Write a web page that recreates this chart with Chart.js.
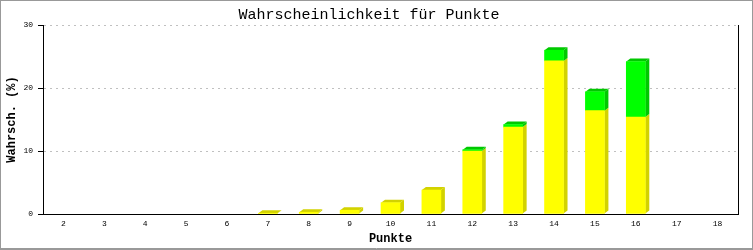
<!DOCTYPE html>
<html>
<head>
<meta charset="utf-8">
<script src="https://cdn.jsdelivr.net/npm/chart.js@4/dist/chart.umd.min.js"></script>
<style>
  body { margin: 0; background: #fff; }
  #wrap { width: 753px; height: 250px; }
</style>
</head>
<body>
<div id="wrap"><canvas id="punktechart" width="753" height="250"></canvas></div>
<script>
// categories (Punkte)
const punkte = ['2', '3', '4', '5', '6', '7', '8', '9', '10', '11', '12', '13', '14', '15', '16', '17', '18'];
// lower (yellow) part in %, null = no bar
const gelb = [null, null, null, null, null, 0.12, 0.28, 0.6, 1.8, 3.8, 10.0, 13.8, 24.3, 16.4, 15.4, null, null];
// upper (green) part in %
const gruen = [null, null, null, null, null, null, null, null, null, null, 0.2, 0.4, 1.7, 3.0, 8.8, null, null];
// y ticks
const yTicks = [0, 10, 20, 30];

const monoFont = "'Liberation Mono', 'DejaVu Sans Mono', monospace";

// draws the depth (side + top) of every bar before the front faces
const bars3d = {
    id: 'bars3d',
    beforeDatasetsDraw(chart) {
        const ctx = chart.ctx;
        const dx = 4, dy = 3;
        const n = chart.data.labels.length;
        ctx.save();
        for (let i = 0; i < n; i++) {
            let topBar = null;
            chart.data.datasets.forEach(function (ds, d) {
                const el = chart.getDatasetMeta(d).data[i];
                if (!el || !ds.data[i]) return;
                const right = el.x + el.width / 2;
                const top = Math.min(el.y, el.base);
                const bottom = Math.max(el.y, el.base);
                ctx.fillStyle = ds.sideColor;
                ctx.beginPath();
                ctx.moveTo(right, bottom);
                ctx.lineTo(right + dx, bottom - dy);
                ctx.lineTo(right + dx, top - dy);
                ctx.lineTo(right, top);
                ctx.closePath();
                ctx.fill();
                topBar = { el: el, color: ds.sideColor };
            });
            if (topBar) {
                const el = topBar.el;
                const left = el.x - el.width / 2;
                const right = el.x + el.width / 2;
                const top = Math.min(el.y, el.base);
                ctx.fillStyle = topBar.color;
                ctx.beginPath();
                ctx.moveTo(left, top);
                ctx.lineTo(left + dx, top - dy);
                ctx.lineTo(right + dx, top - dy);
                ctx.lineTo(right, top);
                ctx.closePath();
                ctx.fill();
            }
        }
        ctx.restore();
    }
};

// grey frame round the picture
const frame = {
    id: 'frame',
    afterDraw(chart) {
        const ctx = chart.ctx;
        ctx.save();
        ctx.strokeStyle = '#999999';
        ctx.lineWidth = 1;
        ctx.strokeRect(0.5, 0.5, chart.width - 1, chart.height - 1);
        ctx.beginPath();
        ctx.moveTo(0, chart.height - 1.5);
        ctx.lineTo(chart.width, chart.height - 1.5);
        ctx.stroke();
        ctx.restore();
    }
};

const data = {
    labels: punkte,
    datasets: [{
        label: 'gelb',
        data: gelb,
        backgroundColor: '#ffff00',
        sideColor: '#d2d200',
        borderWidth: 0,
        barThickness: 19
    }, {
        label: 'gruen',
        data: gruen,
        backgroundColor: '#00ff00',
        sideColor: '#00c800',
        borderWidth: 0,
        barThickness: 19
    }]
};

const config = {
    type: 'bar',
    data: data,
    options: {
        responsive: false,
        animation: false,
        devicePixelRatio: 1,
        layout: { padding: { left: 0, right: 15, top: 0, bottom: 0 } },
        plugins: {
            legend: { display: false },
            tooltip: { enabled: false },
            title: {
                display: true,
                text: 'Wahrscheinlichkeit für Punkte',
                color: '#000',
                font: { family: monoFont, size: 15, weight: 'normal' },
                padding: { top: 6, bottom: 1 }
            }
        },
        scales: {
            x: {
                stacked: true,
                afterFit(scale) { scale.height = 36; },
                grid: { display: false, drawTicks: false },
                border: { display: true, color: '#000', width: 1 },
                ticks: {
                    color: '#000',
                    font: { family: monoFont, size: 8 },
                    padding: 5,
                    maxRotation: 0,
                    autoSkip: false
                },
                title: {
                    display: true,
                    text: 'Punkte',
                    color: '#000',
                    font: { family: monoFont, size: 12, weight: 'bold' },
                    padding: { top: 0, bottom: 4 }
                }
            },
            y: {
                stacked: true,
                min: 0,
                max: 30,
                afterFit(scale) { scale.width = 43; },
                afterBuildTicks(scale) {
                    scale.ticks = yTicks.map(function (v) { return { value: v }; });
                },
                grid: {
                    color: function (c) { return c.tick && c.tick.value === 0 ? 'rgba(0,0,0,0)' : '#c0c0c0'; },
                    tickColor: '#000',
                    tickLength: 5
                },
                border: { display: true, color: '#000', width: 1, dash: [2, 4] },
                ticks: {
                    color: '#000',
                    font: { family: monoFont, size: 8 },
                    padding: 5
                },
                title: {
                    display: true,
                    text: 'Wahrsch. (%)',
                    color: '#000',
                    font: { family: monoFont, size: 12, weight: 'bold' },
                    padding: { top: 5, bottom: 4 }
                }
            },
            y2: {
                position: 'right',
                display: true,
                grid: { drawOnChartArea: false, drawTicks: false },
                border: { display: true, color: '#000', width: 1 },
                ticks: { display: false }
            }
        }
    },
    plugins: [bars3d, frame]
};

const myChart = new Chart(document.getElementById('punktechart'), config);
</script>
</body>
</html>
